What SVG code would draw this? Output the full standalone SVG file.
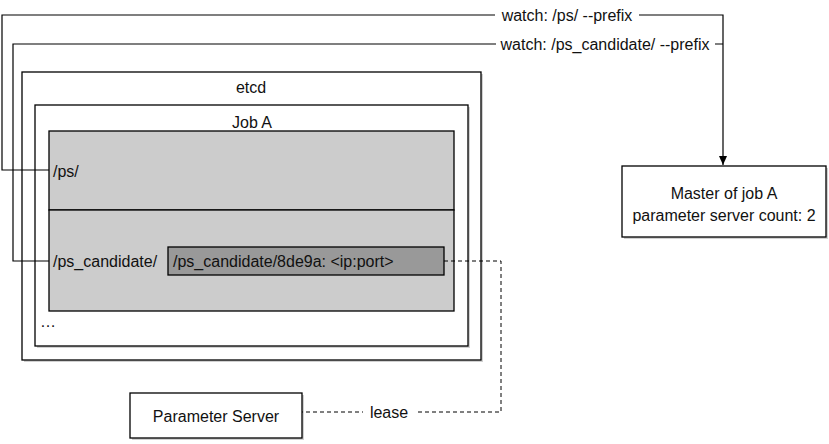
<svg xmlns="http://www.w3.org/2000/svg" width="829" height="444" viewBox="0 0 829 444">
<style>
  text { font-family: "Liberation Sans", Arial, sans-serif; font-size: 16px; fill: #111; }
  .c { text-anchor: middle; }
  .box { fill: #fff; stroke: #000; stroke-width: 1.3; }
  .shadow { fill: #000; opacity: 0.18; }
  .conn { fill: none; stroke: #000; stroke-width: 1.2; }
  .dash { fill: none; stroke: #000; stroke-width: 1; stroke-dasharray: 4 3; }
  .lbl { fill: #fff; }
</style>
<defs>
  <marker id="arrow" markerWidth="10" markerHeight="10" refX="9" refY="4" orient="auto" markerUnits="userSpaceOnUse">
    <path d="M0,0 L9,4 L0,8 Z" fill="#000"/>
  </marker>
</defs>

<g id="etcd">
  <rect class="shadow" x="24" y="74" width="459" height="288"/>
  <rect class="box" x="22" y="72" width="459" height="288"/>
  <text class="c" x="251" y="93">etcd</text>
</g>
<g id="jobA">
  <rect class="shadow" x="37" y="107" width="433" height="241"/>
  <rect class="box" x="35" y="105" width="433" height="241"/>
  <text class="c" x="252" y="128">Job A</text>
  <text x="40" y="327">…</text>
</g>
<g id="ps">
  <rect x="49" y="131" width="405" height="79" fill="#ccc" stroke="#000" stroke-width="1.3"/>
  <text x="53" y="177">/ps/</text>
</g>
<g id="ps_candidate">
  <rect x="49" y="210" width="405" height="101" fill="#ccc" stroke="#000" stroke-width="1.3"/>
  <text x="53" y="267">/ps_candidate/</text>
</g>
<g id="candidate_entry">
  <rect x="168" y="247" width="276" height="28" fill="#999" stroke="#000" stroke-width="1.3"/>
  <text x="173" y="267">/ps_candidate/8de9a: &lt;ip:port&gt;</text>
</g>
<g id="master">
  <rect class="shadow" x="624" y="168" width="204" height="71"/>
  <rect class="box" x="622" y="166" width="204" height="71"/>
  <text class="c" x="724" y="199">Master of job A</text>
  <text class="c" x="724" y="221">parameter server count: 2</text>
</g>
<g id="parameter_server">
  <rect class="shadow" x="132" y="395" width="172" height="45"/>
  <rect class="box" x="130" y="393" width="172" height="45"/>
  <text class="c" x="216" y="422">Parameter Server</text>
</g>

<g id="connectors">
  <path class="conn" d="M49,170 H2 V15 H723 V165" marker-end="url(#arrow)"/>
  <path class="conn" d="M49,261 H13 V44 H723"/>
  <rect class="lbl" x="495" y="5" width="144" height="20"/>
  <text class="c" x="567" y="21">watch: /ps/ --prefix</text>
  <rect class="lbl" x="496" y="34" width="219" height="20"/>
  <text class="c" x="605" y="50">watch: /ps_candidate/ --prefix</text>
  <path class="dash" d="M444,261 H501 V412 H302"/>
  <rect class="lbl" x="363" y="402" width="52" height="20"/>
  <text class="c" x="389" y="418">lease</text>
</g>
</svg>
